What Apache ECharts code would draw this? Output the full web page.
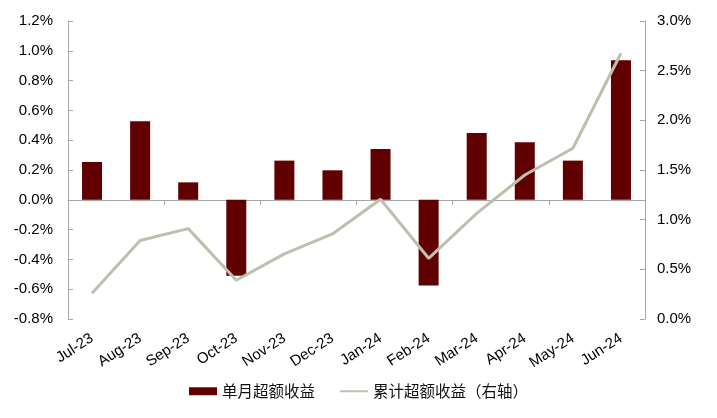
<!DOCTYPE html>
<html>
<head>
<meta charset="utf-8">
<script src="https://cdn.jsdelivr.net/npm/echarts@6/dist/echarts.min.js"></script>
<style>
html,body{margin:0;padding:0;background:#fff;}
#chart{width:717px;height:418px;}
</style>
</head>
<body>
<div id="chart"></div>
<script>
var categories = ['Jul-23','Aug-23','Sep-23','Oct-23','Nov-23','Dec-23','Jan-24','Feb-24','Mar-24','Apr-24','May-24','Jun-24'];
var monthlyExcess = [0.254, 0.527, 0.117, -0.509, 0.263, 0.198, 0.341, -0.576, 0.448, 0.386, 0.263, 0.936];
var cumulativeExcess = [0.26, 0.79, 0.91, 0.39, 0.655, 0.856, 1.205, 0.611, 1.064, 1.45, 1.719, 2.675];
var leftTicks = {min: -0.8, max: 1.2, interval: 0.2};
var rightTicks = {min: 0, max: 3.0, interval: 0.5};
var seriesNames = ['单月超额收益', '累计超额收益（右轴）'];

var FONT = '"Liberation Sans", Arial, "Noto Sans CJK SC", sans-serif';
var chart = echarts.init(document.getElementById('chart'), null, {renderer: 'canvas'});
chart.setOption({
  animation: false,
  backgroundColor: '#ffffff',
  textStyle: {fontFamily: FONT},
  grid: {left: 68, right: 72, top: 21, bottom: 99, containLabel: false},
  legend: {
    bottom: 14,
    left: 'center',
    itemGap: 24,
    itemWidth: 28,
    itemHeight: 8,
    textStyle: {fontSize: 15.5, color: '#111', fontFamily: '"Noto Sans CJK SC", sans-serif'},
    data: [
      {name: seriesNames[0], icon: 'rect'},
      {name: seriesNames[1], itemStyle: {opacity: 0}}
    ]
  },
  xAxis: [
    {
      type: 'category',
      data: categories,
      position: 'bottom',
      axisLine: {show: false, onZero: false},
      axisTick: {show: false},
      axisLabel: {rotate: 33, margin: 18, fontSize: 15, color: '#000', fontFamily: FONT, interval: 0}
    },
    {
      type: 'category',
      data: categories,
      position: 'bottom',
      axisLine: {show: true, onZero: true, onZeroAxisIndex: 0, lineStyle: {color: '#a6a6a6', width: 1}},
      axisTick: {show: true, inside: false, length: 5, lineStyle: {color: '#a6a6a6'}},
      axisLabel: {show: false}
    }
  ],
  yAxis: [
    {
      type: 'value',
      min: leftTicks.min, max: leftTicks.max, interval: leftTicks.interval,
      position: 'left',
      axisLine: {show: true, lineStyle: {color: '#a6a6a6'}},
      axisTick: {show: true, inside: true, length: 5, lineStyle: {color: '#a6a6a6'}},
      splitLine: {show: false},
      axisLabel: {margin: 15, fontSize: 15, color: '#000', fontFamily: FONT,
        formatter: function (v) { return v.toFixed(1) + '%'; }}
    },
    {
      type: 'value',
      min: rightTicks.min, max: rightTicks.max, interval: rightTicks.interval,
      position: 'right',
      axisLine: {show: true, onZero: false, lineStyle: {color: '#a6a6a6'}},
      axisTick: {show: true, inside: true, length: 5, lineStyle: {color: '#a6a6a6'}},
      splitLine: {show: false},
      axisLabel: {margin: 12, fontSize: 15, color: '#000', fontFamily: FONT,
        formatter: function (v) { return v.toFixed(1) + '%'; }}
    }
  ],
  series: [
    {
      name: seriesNames[0],
      type: 'bar',
      xAxisIndex: 0,
      yAxisIndex: 0,
      data: monthlyExcess,
      barWidth: 20,
      itemStyle: {color: '#600000'}
    },
    {
      name: seriesNames[1],
      type: 'line',
      xAxisIndex: 0,
      yAxisIndex: 1,
      data: cumulativeExcess,
      symbol: 'none',
      lineStyle: {color: '#bfbfb0', width: 3},
      itemStyle: {color: '#bfbfb0'}
    }
  ]
});
</script>
</body>
</html>
